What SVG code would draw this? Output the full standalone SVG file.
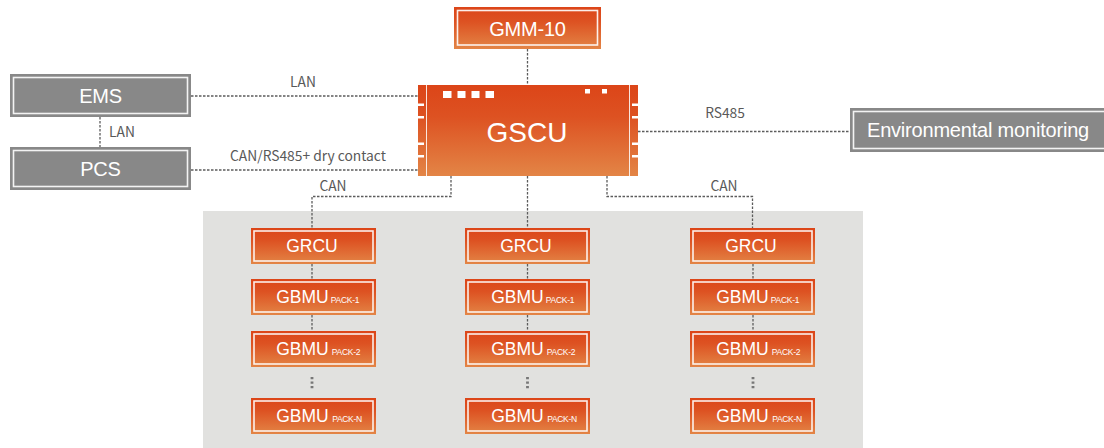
<svg xmlns="http://www.w3.org/2000/svg" width="1104" height="448" viewBox="0 0 1104 448">
<style>
text{font-family:"Liberation Sans",Arial,sans-serif;text-anchor:middle}
.w{fill:#fff}
.lab{fill:#595959;font-size:13.800px;font-family:"Noto Sans CJK KR","Noto Sans",sans-serif;font-weight:400}
.c{fill:none;stroke:#5c5c5c;stroke-width:1.3;stroke-dasharray:2.500 1.500}
.d{fill:none;stroke:#777;stroke-width:2.800;stroke-dasharray:2.200 2.300}
.o{fill:url(#og)}
.g{fill:#888}
.in{fill:none;stroke:#fff;stroke-width:1.6;opacity:.9}
.t20{font-size:20px;letter-spacing:-.2px}
.t18{font-size:17.500px}
.s{font-size:8.500px;letter-spacing:-.3px}
.tick{fill:#fff}
</style>
<defs>
<linearGradient id="og" x1="0" y1="0" x2="0" y2="1">
<stop offset="0" stop-color="#dc4518"/>
<stop offset=".35" stop-color="#dd5222"/>
<stop offset="1" stop-color="#e38546"/>
</linearGradient>
<g id="box"><rect class="o" width="125" height="36"/><rect class="in" x="3" y="3" width="119" height="30"/></g>
</defs>
<rect x="203" y="211" width="660" height="237" fill="#e1e1df"/>
<g id="connectors">
<path class="c" d="M527.500 49V85"/>
<path class="c" d="M191 96H418"/>
<path class="c" d="M191 170H418"/>
<path class="c" d="M100 117V147"/>
<path class="c" d="M638 131.500H850"/>
<path class="c" d="M451 176V196.500H312V228"/>
<path class="c" d="M527.500 176V228"/>
<path class="c" d="M607 176V196.500H752.500V228"/>
<path class="c" d="M312 264V279M312 315V331"/><path class="d" d="M312 377V389"/>
<path class="c" d="M527.500 264V279M527.500 315V331"/><path class="d" d="M527.500 377V389"/>
<path class="c" d="M753 264V279M753 315V331"/><path class="d" d="M753 377V389"/>
</g>
<g id="labels">
<text class="lab" x="303" y="87">LAN</text>
<text class="lab" x="122" y="137">LAN</text>
<text class="lab" x="308" y="161">CAN/RS485+ dry contact</text>
<text class="lab" x="333" y="191">CAN</text>
<text class="lab" x="725" y="118">RS485</text>
<text class="lab" x="724" y="191">CAN</text>
</g>
<g id="gmm"><rect class="o" x="454" y="7" width="147" height="42"/><rect class="in" x="457.500" y="10.500" width="140" height="34.500"/><text class="w t20" x="527.500" y="36">GMM-10</text></g>
<g id="gscu"><rect class="o" x="418" y="85" width="220" height="91"/>
<path d="M426.500 85V176M629.500 85V176" stroke="#fff" stroke-width="1" opacity=".85"/>
<path class="tick" d="M418 103.500h6v2.500h-6zM418 116h6v2.500h-6zM418 142.500h6v2.500h-6zM418 155h6v2.500h-6zM632 103.500h6v2.500h-6zM632 116h6v2.500h-6zM632 142.500h6v2.500h-6zM632 155h6v2.500h-6z"/>
<path class="tick" d="M443 91h8.500v7h-8.500zM457.500 91h8v7h-8zM471.500 91h8v7h-8zM485.500 91h8.500v7h-8.500zM585 89h5v4.500h-5zM602 89h5v4.500h-5z"/>
<text class="w" x="527" y="142" font-size="28">GSCU</text></g>
<g id="ems"><rect class="g" x="10" y="74" width="181" height="43"/><rect class="in" x="13.500" y="77.500" width="174" height="36"/><text class="w t20" x="100.500" y="103">EMS</text></g>
<g id="pcs"><rect class="g" x="10" y="147" width="181" height="43"/><rect class="in" x="13.500" y="150.500" width="174" height="36"/><text class="w t20" x="100.500" y="176">PCS</text></g>
<g id="env"><rect class="g" x="850" y="108" width="254" height="44"/><rect class="in" x="853.500" y="111.500" width="260" height="37"/><text class="w t20" x="978" y="137">Environmental monitoring</text></g>
<g id="grcu-1"><use href="#box" x="251" y="228"/><text class="w t18" x="312" y="252">GRCU</text></g>
<g id="gbmu-1-1"><use href="#box" x="251" y="279"/><text class="w t18" x="302.500" y="303">GBMU</text><text class="w s" x="345" y="303">PACK-1</text></g>
<g id="gbmu-1-2"><use href="#box" x="251" y="331"/><text class="w t18" x="302.500" y="355">GBMU</text><text class="w s" x="346" y="355">PACK-2</text></g>
<g id="gbmu-1-n"><use href="#box" x="251" y="398"/><text class="w t18" x="302.500" y="422">GBMU</text><text class="w s" x="347" y="422">PACK-N</text></g>
<g id="grcu-2"><use href="#box" x="465" y="228"/><text class="w t18" x="526" y="252">GRCU</text></g>
<g id="gbmu-2-1"><use href="#box" x="465" y="279"/><text class="w t18" x="517.500" y="303">GBMU</text><text class="w s" x="560" y="303">PACK-1</text></g>
<g id="gbmu-2-2"><use href="#box" x="465" y="331"/><text class="w t18" x="517.500" y="355">GBMU</text><text class="w s" x="561" y="355">PACK-2</text></g>
<g id="gbmu-2-n"><use href="#box" x="465" y="398"/><text class="w t18" x="517.500" y="422">GBMU</text><text class="w s" x="562" y="422">PACK-N</text></g>
<g id="grcu-3"><use href="#box" x="690" y="228"/><text class="w t18" x="751" y="252">GRCU</text></g>
<g id="gbmu-3-1"><use href="#box" x="690" y="279"/><text class="w t18" x="742.500" y="303">GBMU</text><text class="w s" x="785" y="303">PACK-1</text></g>
<g id="gbmu-3-2"><use href="#box" x="690" y="331"/><text class="w t18" x="742.500" y="355">GBMU</text><text class="w s" x="786" y="355">PACK-2</text></g>
<g id="gbmu-3-n"><use href="#box" x="690" y="398"/><text class="w t18" x="742.500" y="422">GBMU</text><text class="w s" x="787" y="422">PACK-N</text></g>
</svg>
